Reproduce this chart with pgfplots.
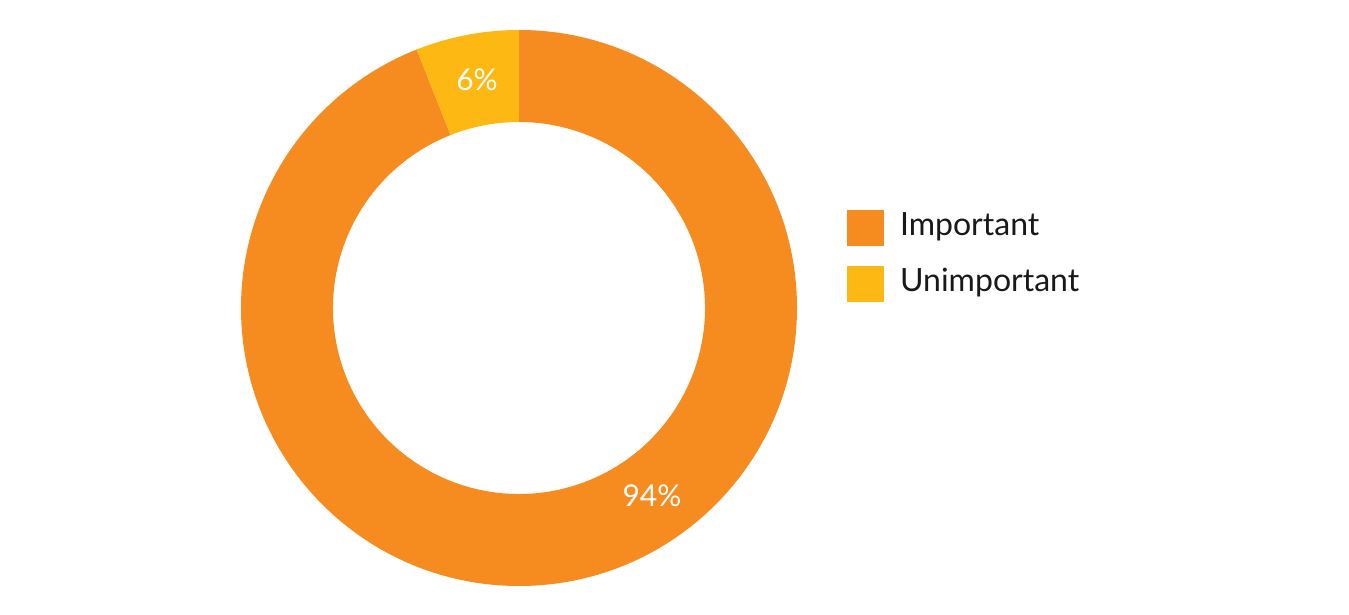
\documentclass[border=0pt]{standalone}
\usepackage{pgfplots}
\pgfplotsset{compat=1.18}
\usepackage{pgfplotstable}
\usepackage{fontspec}
\setmainfont{Lato}
\usetikzlibrary{calc}
\definecolor{impo}{HTML}{F68B1F}
\definecolor{unimp}{HTML}{FDB813}
\pgfplotstableread{
label value
Important 94
Unimportant 6
}\shares
\pgfplotstablegetelem{0}{value}\of\shares \let\vA\pgfplotsretval
\pgfplotstablegetelem{1}{value}\of\shares \let\vB\pgfplotsretval
\pgfmathsetmacro\aStart{90}
\pgfmathsetmacro\aMid{90-3.6*\vA}
\pgfmathsetmacro\aEnd{\aMid-3.6*\vB}
\begin{document}
\begin{tikzpicture}
\begin{axis}[width=674.5pt,height=307.5pt,scale only axis,hide axis,
  xmin=0,xmax=1349,ymin=0,ymax=615,clip=false]
\path (axis cs:0,0) rectangle (axis cs:1349,615);
% Important sector
\fill[impo] ($(axis cs:519,307)+(\aStart:139pt)$) arc[start angle=\aStart,end angle=\aMid,radius=139pt]
  -- ($(axis cs:519,307)+(\aMid:93pt)$) arc[start angle=\aMid,end angle=\aStart,radius=93pt] -- cycle;
% Unimportant sector
\fill[unimp] ($(axis cs:519,307)+(\aMid:139pt)$) arc[start angle=\aMid,end angle=\aEnd,radius=139pt]
  -- ($(axis cs:519,307)+(\aEnd:93pt)$) arc[start angle=\aEnd,end angle=\aMid,radius=93pt] -- cycle;
% labels
\node[text=white,font=\fontsize{15}{18}\selectfont] at (axis cs:477,535) {\vB\%};
\node[text=white,font=\fontsize{15}{18}\selectfont] at (axis cs:652,119) {\vA\%};
% legend
\fill[impo] (axis cs:847,369) rectangle (axis cs:884,405);
\fill[unimp] (axis cs:847,313) rectangle (axis cs:884,349);
\node[anchor=west,font=\fontsize{16}{19}\selectfont,text=black!90] at (axis cs:893,388) {Important};
\node[anchor=west,font=\fontsize{16}{19}\selectfont,text=black!90] at (axis cs:893,332) {Unimportant};
\end{axis}
\end{tikzpicture}
\end{document}
